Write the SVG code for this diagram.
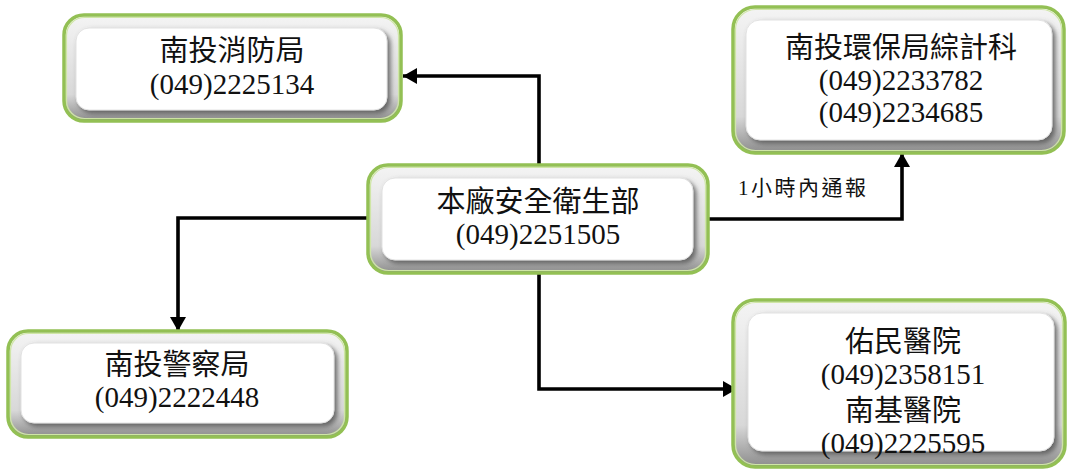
<svg xmlns="http://www.w3.org/2000/svg" width="1067" height="475" viewBox="0 0 1067 475">
<defs>
  <linearGradient id="bevel" x1="0" y1="0" x2="0" y2="1">
    <stop offset="0" stop-color="#f4f4f4"/>
    <stop offset="0.75" stop-color="#d8d8d8"/>
    <stop offset="1" stop-color="#8c8c8c"/>
  </linearGradient>
  <filter id="sh" x="-10%" y="-10%" width="120%" height="130%">
    <feGaussianBlur in="SourceAlpha" stdDeviation="2.5"/>
    <feOffset dx="3" dy="3" result="b"/>
    <feFlood flood-color="#555" flood-opacity="0.85"/>
    <feComposite in2="b" operator="in"/>
    <feMerge><feMergeNode/><feMergeNode in="SourceGraphic"/></feMerge>
  </filter>
  <marker id="arr" markerUnits="userSpaceOnUse" markerWidth="15" markerHeight="16" refX="14" refY="8" orient="auto">
    <path d="M0,0 L14,8 L0,16 z" fill="#000"/>
  </marker>
</defs>
<style>
  .outer { fill: url(#bevel); stroke: #93c054; stroke-width: 3.5; }
  .hl { fill: none; stroke: #cfe6a6; stroke-width: 1.2; }
  .inner { fill: #ffffff; stroke: #e2e2e2; stroke-width: 1; filter: url(#sh); }
  .t { font-family: "Noto Sans CJK TC", sans-serif; font-size: 29px; fill: #111; text-anchor: middle; }
  .n { font-family: "Liberation Serif", "Times New Roman", serif; font-size: 29px; fill: #111; text-anchor: middle; }
  .lbl { font-family: "Liberation Serif", "Noto Sans CJK TC", serif; font-size: 21px; fill: #111; letter-spacing: 2.5px; }
  .c { fill: none; stroke: #000; stroke-width: 3.6; marker-end: url(#arr); }
</style>
<rect width="1067" height="475" fill="#ffffff"/>
<g id="connectors">
  <path class="c" d="M539,165 V76 H403"/>
  <path class="c" d="M368,218 H178 V331"/>
  <path class="c" d="M708,219 H902 V153"/>
  <path class="c" d="M539,273 V389 H737"/>
  <text class="lbl" x="738" y="195">1小時內通報</text>
</g>
<g id="fire">
  <rect class="outer" x="64" y="15" width="337" height="106" rx="20"/>
  <rect class="hl" x="66.5" y="17.5" width="332" height="101" rx="18"/>
  <rect class="inner" x="76" y="28" width="311" height="82" rx="13"/>
  <text class="t" x="232" y="61">南投消防局</text>
  <text class="n" x="232" y="94">(049)2225134</text>
</g>
<g id="center">
  <rect class="outer" x="368" y="165" width="340" height="108" rx="20"/>
  <rect class="hl" x="370.5" y="167.5" width="335" height="103" rx="18"/>
  <rect class="inner" x="382" y="178" width="311" height="82" rx="13"/>
  <text class="t" x="538" y="212">本廠安全衛生部</text>
  <text class="n" x="538" y="244">(049)2251505</text>
</g>
<g id="env">
  <rect class="outer" x="733" y="7" width="331" height="146" rx="22"/>
  <rect class="hl" x="735.5" y="9.5" width="326" height="141" rx="20"/>
  <rect class="inner" x="746" y="20" width="306" height="120" rx="14"/>
  <text class="t" x="901" y="58">南投環保局綜計科</text>
  <text class="n" x="901" y="90">(049)2233782</text>
  <text class="n" x="901" y="122">(049)2234685</text>
</g>
<g id="police">
  <rect class="outer" x="8" y="331" width="339" height="106" rx="20"/>
  <rect class="hl" x="10.5" y="333.5" width="334" height="101" rx="18"/>
  <rect class="inner" x="21" y="343" width="313" height="80" rx="13"/>
  <text class="t" x="177" y="375">南投警察局</text>
  <text class="n" x="177" y="407">(049)2222448</text>
</g>
<g id="hospital">
  <rect class="outer" x="733" y="300" width="332" height="167" rx="22"/>
  <rect class="hl" x="735.5" y="302.5" width="327" height="162" rx="20"/>
  <rect class="inner" x="748" y="313" width="306" height="138" rx="14"/>
  <text class="t" x="903" y="352">佑民醫院</text>
  <text class="n" x="903" y="384">(049)2358151</text>
  <text class="t" x="903" y="421">南基醫院</text>
  <text class="n" x="903" y="453">(049)2225595</text>
</g>
</svg>
